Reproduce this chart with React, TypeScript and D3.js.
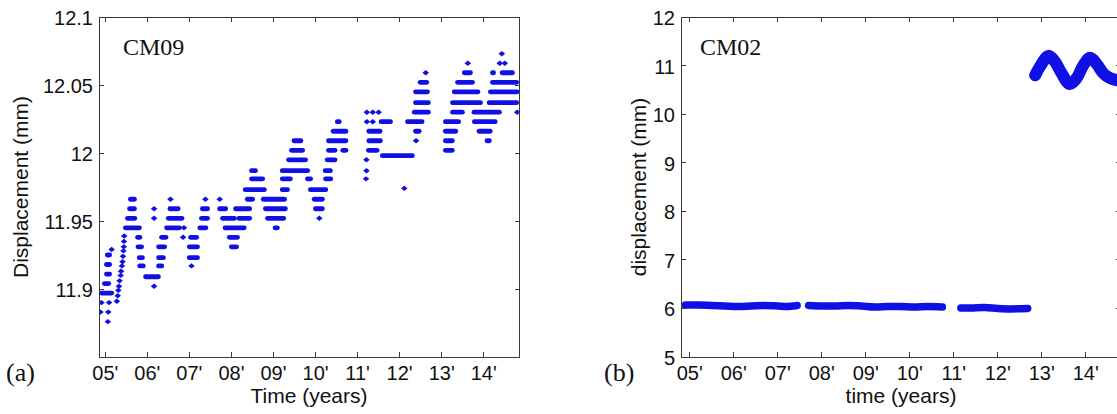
import React from "react";
import * as d3 from "d3";

type Run = [number, number, number]; // [start year, end year, displacement]
type Pt = [number, number]; // [year, displacement]

// ---------- axes ----------
const yearTicks = [5, 6, 7, 8, 9, 10, 11, 12, 13, 14];
const yearTickLabels = ["05'", "06'", "07'", "08'", "09'", "10'", "11'", "12'", "13'", "14'"];
const cm09Ticks = [11.9, 11.95, 12, 12.05, 12.1];
const cm09TickLabels = ["11.9", "11.95", "12", "12.05", "12.1"];
const cm02Ticks = [5, 6, 7, 8, 9, 10, 11, 12];
const cm02TickLabels = ["5", "6", "7", "8", "9", "10", "11", "12"];

// ---------- CM09 (quantized readings shown as runs of markers) ----------
const cm09Runs2005: Run[] = [
  [4.85, 5.21, 11.897], [4.85, 4.97, 11.89], [5.09, 5.09, 11.89],
  [4.85, 4.92, 11.883], [5.07, 5.07, 11.883], [5.06, 5.06, 11.876],
  [4.92, 5.14, 11.904], [4.97, 5.16, 11.911], [4.97, 5.16, 11.918],
  [4.99, 5.16, 11.925], [5.15, 5.15, 11.929],
  [5.25, 5.3, 11.891], [5.27, 5.32, 11.895], [5.28, 5.34, 11.899],
  [5.29, 5.36, 11.902], [5.3, 5.38, 11.906], [5.32, 5.41, 11.91],
  [5.33, 5.42, 11.913], [5.34, 5.45, 11.917], [5.35, 5.47, 11.92],
  [5.36, 5.48, 11.924], [5.37, 5.49, 11.928], [5.38, 5.5, 11.931],
  [5.39, 5.5, 11.935], [5.4, 5.5, 11.939],
  [5.54, 5.75, 11.966], [5.52, 5.75, 11.959], [5.47, 5.76, 11.952],
  [5.42, 5.87, 11.945], [5.71, 5.88, 11.938], [5.72, 5.92, 11.931],
  [5.75, 5.94, 11.923], [5.76, 5.96, 11.917],
];

const cm09Runs2006: Run[] = [
  [5.9, 6.32, 11.909], [6.16, 6.16, 11.902], [6.16, 6.16, 11.959], [6.16, 6.16, 11.952],
  [6.21, 6.4, 11.917], [6.21, 6.44, 11.923], [6.21, 6.47, 11.931], [6.28, 6.5, 11.938],
  [6.4, 6.82, 11.945], [6.87, 6.87, 11.945], [6.44, 6.88, 11.952], [6.48, 6.79, 11.959],
  [6.55, 6.55, 11.966],
  [6.85, 6.85, 11.938], [6.97, 7.23, 11.938], [6.94, 7.25, 11.931], [6.94, 7.25, 11.923],
  [7.05, 7.05, 11.917], [7.19, 7.45, 11.945], [7.23, 7.49, 11.952], [7.25, 7.49, 11.959],
  [7.32, 7.44, 11.966],
];

const cm09Runs2008: Run[] = [
  [7.66, 7.78, 11.966], [7.66, 7.92, 11.959], [7.73, 8.13, 11.952], [7.79, 8.36, 11.945],
  [7.89, 8.2, 11.938], [7.94, 8.18, 11.931],
  [8.04, 8.49, 11.959], [8.12, 8.49, 11.952], [8.32, 8.56, 11.966], [8.27, 8.84, 11.973],
  [8.42, 8.8, 11.981], [8.42, 8.63, 11.987],
  [8.7, 9.32, 11.966], [8.75, 9.34, 11.959], [8.8, 9.3, 11.952], [8.98, 9.15, 11.945],
  [9.15, 9.39, 11.973], [9.15, 9.46, 11.981], [9.15, 9.87, 11.987], [9.3, 9.82, 11.995],
  [9.37, 9.75, 12.002], [9.43, 9.71, 12.009],
];

const cm09Runs2010: Run[] = [
  [9.75, 9.94, 11.981], [9.82, 10.3, 11.973], [9.91, 10.22, 11.966], [9.94, 10.22, 11.959],
  [10.03, 10.15, 11.952],
  [10.46, 10.62, 12.023], [10.36, 10.78, 12.016], [10.25, 10.78, 12.009], [10.25, 10.52, 12.002],
  [10.59, 10.78, 12.002], [10.22, 10.52, 11.995], [10.17, 10.41, 11.987], [10.18, 10.42, 11.981],
  [11.22, 11.22, 12.03], [11.36, 11.36, 12.03], [11.5, 11.5, 12.03],
  [11.22, 11.22, 12.023], [11.36, 11.36, 12.023], [11.5, 11.84, 12.023],
  [11.21, 11.59, 12.016], [11.21, 11.6, 12.009], [11.2, 11.52, 12.002],
  [11.21, 11.21, 11.995], [11.21, 11.21, 11.987], [11.2, 11.2, 11.981],
  [11.53, 12.36, 11.998], [12.11, 12.11, 11.974],
];

const cm09Runs2012: Run[] = [
  [12.62, 12.62, 12.059], [12.43, 12.7, 12.052], [12.32, 12.72, 12.045], [12.32, 12.74, 12.037],
  [12.29, 12.74, 12.03], [12.13, 12.59, 12.023], [12.32, 12.52, 12.016], [12.39, 12.39, 12.009],
  [13.62, 13.62, 12.066], [13.48, 13.74, 12.059], [13.32, 13.79, 12.052], [13.24, 13.92, 12.045],
  [13.2, 13.98, 12.037], [13.2, 13.55, 12.03], [13.71, 14.43, 12.03], [13.03, 13.46, 12.023],
  [13.72, 14.33, 12.023], [13.03, 13.39, 12.016], [13.83, 14.21, 12.016], [13.03, 13.31, 12.009],
  [14.02, 14.19, 12.009], [13.03, 13.31, 12.002],
  [14.43, 14.43, 12.073], [14.38, 14.38, 12.066], [14.5, 14.5, 12.066],
  [14.15, 14.29, 12.059], [14.38, 14.74, 12.059], [14.15, 14.84, 12.052],
  [14.1, 14.85, 12.045], [14.07, 14.84, 12.037], [14.74, 14.85, 12.03],
];

// ---------- CM02 ----------
const cm02Segment1: Pt[] = [
  [4.9, 6.07], [5.2, 6.07], [5.5, 6.06], [5.8, 6.05], [6.1, 6.04], [6.4, 6.05],
  [6.7, 6.06], [7.0, 6.05], [7.2, 6.04], [7.44, 6.06],
];
const cm02Segment2: Pt[] = [
  [7.7, 6.06], [8.0, 6.05], [8.3, 6.05], [8.6, 6.06], [8.9, 6.05], [9.2, 6.03],
  [9.5, 6.04], [9.8, 6.04], [10.1, 6.03], [10.4, 6.04], [10.74, 6.03],
];
const cm02Segment3: Pt[] = [
  [11.16, 6.01], [11.4, 6.01], [11.7, 6.02], [12.0, 6.0], [12.3, 5.99], [12.68, 6.0],
];
const cm02Wave: Pt[] = [
  [12.85, 10.8], [12.96, 10.98], [13.15, 11.2], [13.3, 11.08], [13.45, 10.84],
  [13.63, 10.62], [13.79, 10.74], [13.94, 11.0], [14.1, 11.16], [14.25, 11.03],
  [14.4, 10.84], [14.55, 10.74], [14.7, 10.7], [14.78, 10.69],
];

const BLUE = "#1010e4";
const AXIS = "#383838";
const SANS = "'Liberation Sans', Arial, Helvetica, sans-serif";
const SERIF = "'Liberation Serif', 'Times New Roman', serif";

const W = 1117;
const H = 414;
const TICK = 5;

type Sc = d3.ScaleLinear<number, number>;

function Frame(props: {
  x: Sc; y: Sc; xTicks: number[]; xLabels: string[]; yTicks: number[]; yLabels: string[];
}) {
  const { x, y, xTicks, xLabels, yTicks, yLabels } = props;
  const [x0, x1] = x.range();
  const [yb, yt] = y.range();
  return (
    <g>
      <g shapeRendering="crispEdges" stroke={AXIS} strokeWidth={1}>
        <rect x={x0} y={yt} width={x1 - x0} height={yb - yt} fill="none" />
        {xTicks.map((t, i) => (
          <g key={"xt" + i}>
            <line x1={x(t)} x2={x(t)} y1={yb} y2={yb - TICK} />
            <line x1={x(t)} x2={x(t)} y1={yt} y2={yt + TICK} />
          </g>
        ))}
        {yTicks.map((v, i) => (
          <g key={"yt" + i}>
            <line x1={x0} x2={x0 + TICK} y1={y(v)} y2={y(v)} />
            <line x1={x1} x2={x1 - TICK} y1={y(v)} y2={y(v)} />
          </g>
        ))}
      </g>
      <g fontFamily={SANS} fontSize={20} fill="#111">
        {xTicks.map((t, i) => (
          <text key={"xl" + i} x={x(t)} y={380} textAnchor="middle">{xLabels[i]}</text>
        ))}
        {yTicks.map((v, i) => (
          <text key={"yl" + i} x={x0 - 6} y={y(v)} dy="0.4em" textAnchor="end">{yLabels[i]}</text>
        ))}
      </g>
    </g>
  );
}

function RunMarks({ runs, x, y }: { runs: Run[]; x: Sc; y: Sc }) {
  const sw = 4.8;
  const inset = sw / 2;
  return (
    <g>
      {runs.map(([t0, t1, v], i) => {
        const a = x(t0) + inset;
        const b = x(t1) - inset;
        const cy = y(v);
        if (b - a < 1) {
          const cx = (x(t0) + x(t1)) / 2;
          return (
            <path key={i} d={`M${cx - 3.3},${cy}L${cx},${cy - 2.7}L${cx + 3.3},${cy}L${cx},${cy + 2.7}Z`} fill={BLUE} />
          );
        }
        return (
          <line key={i} x1={a} x2={b} y1={cy} y2={cy} stroke={BLUE} strokeWidth={sw} strokeLinecap="round" />
        );
      })}
    </g>
  );
}

export default function App() {
  // Panel (a)
  const xa = d3.scaleLinear().domain([4.85, 14.85]).range([99, 519.5]);
  const ya = d3.scaleLinear().domain([11.85, 12.1]).range([357, 17]);
  // Panel (b)
  const xb = d3.scaleLinear().domain([4.8, 14.8]).range([681, 1121]);
  const yb = d3.scaleLinear().domain([5, 12]).range([357, 17]);

  const lineB = d3.line<Pt>().x((d) => xb(d[0])).y((d) => yb(d[1])).curve(d3.curveCatmullRom);
  const allRuns = [cm09Runs2005, cm09Runs2006, cm09Runs2008, cm09Runs2010, cm09Runs2012];

  return (
    <svg width={W} height={H} style={{ position: "absolute", left: 0, top: 0, background: "#fff" }}>
      <defs>
        <clipPath id="clipA"><rect x={99} y={17} width={420.5} height={340} /></clipPath>
        <clipPath id="clipB"><rect x={681} y={17} width={440} height={340} /></clipPath>
      </defs>
      <rect x={0} y={0} width={W} height={H} fill="#fff" />

      {/* Panel (a) */}
      <g clipPath="url(#clipA)">
        {allRuns.map((r, i) => <RunMarks key={i} runs={r} x={xa} y={ya} />)}
      </g>
      <Frame x={xa} y={ya} xTicks={yearTicks} xLabels={yearTickLabels} yTicks={cm09Ticks} yLabels={cm09TickLabels} />
      <text x={123} y={55} fontFamily={SERIF} fontSize={24} fill="#111">CM09</text>
      <text x={6} y={381} fontFamily={SERIF} fontSize={26} fill="#111">(a)</text>
      <text x={309} y={403} fontFamily={SANS} fontSize={21} textAnchor="middle" fill="#111">Time (years)</text>
      <text transform="translate(28,187) rotate(-90)" fontFamily={SANS} fontSize={21} textAnchor="middle" fill="#111">Displacement (mm)</text>

      {/* Panel (b) */}
      <g clipPath="url(#clipB)" fill="none" stroke={BLUE} strokeLinecap="round" strokeLinejoin="round">
        {[cm02Segment1, cm02Segment2, cm02Segment3].map((s, i) => (
          <path key={i} d={lineB(s) || ""} strokeWidth={7.5} />
        ))}
        <path d={lineB(cm02Wave) || ""} strokeWidth={12} />
      </g>
      <Frame x={xb} y={yb} xTicks={yearTicks} xLabels={yearTickLabels} yTicks={cm02Ticks} yLabels={cm02TickLabels} />
      <text x={700} y={55} fontFamily={SERIF} fontSize={24} fill="#111">CM02</text>
      <text x={604} y={381} fontFamily={SERIF} fontSize={26} fill="#111">(b)</text>
      <text x={901} y={403} fontFamily={SANS} fontSize={21} textAnchor="middle" fill="#111">time (years)</text>
      <text transform="translate(646,187) rotate(-90)" fontFamily={SANS} fontSize={21} textAnchor="middle" fill="#111">displacement (mm)</text>
    </svg>
  );
}
